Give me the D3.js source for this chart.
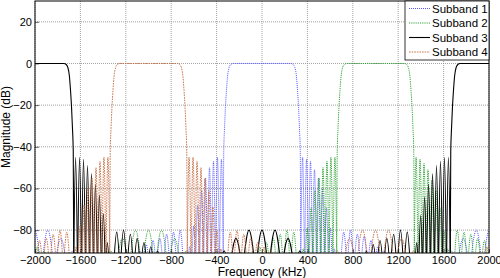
<!DOCTYPE html>
<html>
<head>
<meta charset="utf-8">
<script src="https://cdn.jsdelivr.net/npm/d3@7"></script>
<style>
  body { margin: 0; background: #fff; }
  text { font-family: "Liberation Sans", Arial, Helvetica, sans-serif; }
</style>
</head>
<body>
<div id="chart"></div>
<script>
// tick labels
var xTicks = [-2000, -1600, -1200, -800, -400, 0, 400, 800, 1200, 1600, 2000];
var yTicks = [20, 0, -20, -40, -60, -80];

// level used for the deep nulls between side lobes (below the visible range)
var nullDb = -100;

// Subband 1 (centre 0 kHz): passband points [kHz, dB] and side lobes [from, to, peak dB]
var s1Main = [[[-342, -100], [-337, -42], [-330, -31], [-322, -21], [-313, -13], [-303, -6], [-290, -2], [-275, -0.5], [-255, 0], [0, 0], [255, 0], [275, -0.5], [290, -2], [303, -6], [313, -13], [322, -21], [330, -31], [337, -42], [342, -100]]];
var s1Lobes = [
  [-375, -340, -46], [-410, -375, -45], [-445, -410, -47], [-480, -445, -50], [-515, -480, -55], [-550, -515, -61], [-585, -550, -68], [-620, -585, -78], [-655, -620, -88],
  [340, 375, -45], [375, 410, -46], [410, 445, -47], [445, 480, -51], [480, 515, -55], [515, 550, -60], [550, 585, -69], [585, 620, -79], [620, 655, -89],
  [-750, -690, -80], [-810, -750, -81], [-870, -810, -82], [-930, -870, -84], [-990, -930, -85], [-1050, -990, -87], [-1110, -1050, -90],
  [690, 750, -81], [750, 810, -80], [810, 870, -82], [870, 930, -83], [930, 990, -85], [990, 1050, -88], [1050, 1110, -90],
  [-2060, -1945, -80], [-1945, -1830, -80], [-1830, -1715, -84], [-1715, -1620, -90],
  [1620, 1715, -90], [1715, 1830, -84], [1830, 1945, -80], [1945, 2060, -80]
];

// Subband 2 (centre 1000 kHz)
var s2Main = [[[658, -100], [663, -42], [670, -31], [678, -21], [687, -13], [697, -6], [710, -2], [725, -0.5], [745, 0], [1000, 0], [1255, 0], [1275, -0.5], [1290, -2], [1303, -6], [1313, -13], [1322, -21], [1330, -31], [1337, -42], [1342, -100]]];
var s2Lobes = [
  [625, 660, -45], [590, 625, -45], [555, 590, -47], [520, 555, -50], [485, 520, -55], [450, 485, -61], [415, 450, -69], [380, 415, -79], [345, 380, -89],
  [1340, 1375, -45], [1375, 1410, -46], [1410, 1445, -48], [1445, 1480, -51], [1480, 1515, -56], [1515, 1550, -61], [1550, 1585, -69], [1585, 1620, -80], [1620, 1655, -89],
  [250, 310, -81], [190, 250, -80], [130, 190, -82], [70, 130, -84], [10, 70, -86], [-50, 10, -88], [-110, -50, -90],
  [1690, 1750, -80], [1750, 1810, -81], [1810, 1870, -82], [1870, 1930, -84], [1930, 1990, -85], [1990, 2050, -88], [-2010, -1950, -88], [-1950, -1890, -90],
  [-1057, -943, -80], [-1172, -1057, -80], [-1287, -1172, -84], [-1380, -1287, -90], [-943, -828, -80], [-828, -713, -84], [-713, -620, -90]
];

// Subband 3 (centre +/-2000 kHz)
var s3Main = [
  [[-2000, 0], [-1745, 0], [-1725, -0.5], [-1710, -2], [-1697, -6], [-1687, -13], [-1678, -21], [-1670, -31], [-1663, -42], [-1658, -100]],
  [[1658, -100], [1663, -42], [1670, -31], [1678, -21], [1687, -13], [1697, -6], [1710, -2], [1725, -0.5], [1745, 0], [2000, 0]]
];
var s3Lobes = [
  [-1660, -1625, -45], [-1625, -1590, -45], [-1590, -1555, -46], [-1555, -1520, -49], [-1520, -1485, -53], [-1485, -1450, -58], [-1450, -1415, -63], [-1415, -1380, -72], [-1380, -1345, -86],
  [1625, 1660, -45], [1590, 1625, -45], [1555, 1590, -47], [1520, 1555, -49], [1485, 1520, -53], [1450, 1485, -58], [1415, 1450, -64], [1380, 1415, -73], [1345, 1380, -86],
  [-1310, -1250, -81], [-1250, -1190, -80], [-1190, -1130, -82], [-1130, -1070, -84], [-1070, -1010, -86], [-1010, -950, -88], [-950, -890, -90],
  [1250, 1310, -81], [1190, 1250, -80], [1130, 1190, -82], [1070, 1130, -84], [1010, 1070, -85], [950, 1010, -87], [890, 950, -90],
  [-57, 57, -80], [57, 172, -80], [172, 287, -84], [287, 380, -90], [-172, -57, -80], [-287, -172, -84], [-380, -287, -90]
];

// Subband 4 (centre -1000 kHz)
var s4Main = [[[-1342, -100], [-1337, -42], [-1330, -31], [-1322, -21], [-1313, -13], [-1303, -6], [-1290, -2], [-1275, -0.5], [-1255, 0], [-1000, 0], [-745, 0], [-725, -0.5], [-710, -2], [-697, -6], [-687, -13], [-678, -21], [-670, -31], [-663, -42], [-658, -100]]];
var s4Lobes = [
  [-1375, -1340, -45], [-1410, -1375, -45], [-1445, -1410, -47], [-1480, -1445, -50], [-1515, -1480, -55], [-1550, -1515, -60], [-1585, -1550, -68], [-1620, -1585, -78], [-1655, -1620, -88],
  [-660, -625, -45], [-625, -590, -45], [-590, -555, -47], [-555, -520, -50], [-520, -485, -55], [-485, -450, -61], [-450, -415, -69], [-415, -380, -80], [-380, -345, -89],
  [-1750, -1690, -81], [-1810, -1750, -80], [-1870, -1810, -82], [-1930, -1870, -84], [-1990, -1930, -85], [-2050, -1990, -88], [1950, 2010, -88], [1890, 1950, -90],
  [-310, -250, -81], [-250, -190, -80], [-190, -130, -82], [-130, -70, -84], [-70, -10, -86], [-10, 50, -88], [50, 110, -90],
  [943, 1057, -80], [828, 943, -80], [713, 828, -84], [620, 713, -90], [1057, 1172, -80], [1172, 1287, -84], [1287, 1380, -90]
];

var seriesNames = ["Subband 1", "Subband 2", "Subband 3", "Subband 4"];
var seriesColors = ["#4646ff", "#1f9a26", "#000000", "#c46a40"];
var seriesDash = ["1,1", "1.2,1", null, "1.6,1"];
var seriesWidth = [0.9, 0.9, 1.1, 0.9];
var mains = [s1Main, s2Main, s3Main, s4Main];
var lobes = [s1Lobes, s2Lobes, s3Lobes, s4Lobes];

var width = 500, height = 278;
var margin = {top: 1, right: 11, bottom: 25, left: 35};
var w = width - margin.left - margin.right;
var h = height - margin.top - margin.bottom;

var svg = d3.select("#chart").append("svg")
    .attr("width", width)
    .attr("height", height);

var g = svg.append("g")
    .attr("transform", "translate(" + margin.left + "," + margin.top + ")");

var x = d3.scaleLinear().domain([-2000, 2000]).range([0, w]);
var y = d3.scaleLinear().domain([-91, 30]).range([h, 0]);

g.append("clipPath").attr("id", "clip")
  .append("rect").attr("width", w).attr("height", h);

// grid
g.selectAll(".gx").data(xTicks).enter().append("line")
    .attr("x1", d => x(d)).attr("x2", d => x(d))
    .attr("y1", 0).attr("y2", h)
    .attr("stroke", "#8a8a8a").attr("stroke-width", 0.8)
    .attr("stroke-dasharray", "1,1");
g.selectAll(".gy").data(yTicks).enter().append("line")
    .attr("x1", 0).attr("x2", w)
    .attr("y1", d => y(d)).attr("y2", d => y(d))
    .attr("stroke", "#8a8a8a").attr("stroke-width", 0.8)
    .attr("stroke-dasharray", "1,1");

// curves
var line = d3.line()
    .x(d => x(d[0]))
    .y(d => y(d[1]))
    .curve(d3.curveMonotoneX);

var plot = g.append("g").attr("clip-path", "url(#clip)");

mains.forEach(function (main, i) {
    var sg = plot.append("g")
        .attr("fill", "none")
        .attr("stroke", seriesColors[i])
        .attr("stroke-width", seriesWidth[i])
        .attr("stroke-dasharray", seriesDash[i]);
    main.forEach(function (seg) {
        sg.append("path").attr("d", line(seg));
    });
    lobes[i].forEach(function (lb) {
        var pts = [[lb[0], nullDb], [(lb[0] + lb[1]) / 2, lb[2]], [lb[1], nullDb]];
        sg.append("path").attr("d", line(pts));
    });
});

// axes
var xAxis = g.append("g")
    .attr("transform", "translate(0," + h + ")")
    .call(d3.axisBottom(x).tickValues(xTicks).tickSize(-4).tickPadding(3).tickFormat(d3.format("d")));
var yAxis = g.append("g")
    .call(d3.axisLeft(y).tickValues(yTicks).tickSize(-4).tickPadding(3));
[xAxis, yAxis].forEach(function (ax) {
    ax.select(".domain").remove();
    ax.selectAll("line").attr("stroke", "#000").attr("stroke-width", 0.6);
    ax.selectAll("text").attr("font-size", 11).attr("fill", "#000")
      .style("font-family", "'Liberation Sans', Arial, sans-serif");
});

// frame
g.append("rect")
    .attr("width", w).attr("height", h)
    .attr("fill", "none").attr("stroke", "#000").attr("stroke-width", 1);

// axis labels
svg.append("text")
    .attr("x", margin.left + w / 2).attr("y", 276)
    .attr("text-anchor", "middle").attr("font-size", 12)
    .text("Frequency (kHz)");
svg.append("text")
    .attr("transform", "translate(10," + (margin.top + h / 2) + ") rotate(-90)")
    .attr("text-anchor", "middle").attr("font-size", 12)
    .text("Magnitude (dB)");

// legend
var lg = g.append("g").attr("transform", "translate(" + (w - 84) + ",0)");
lg.append("rect").attr("width", 84).attr("height", 59)
    .attr("fill", "#fff").attr("stroke", "#000").attr("stroke-width", 0.8);
seriesNames.forEach(function (name, i) {
    var ly = 7.5 + i * 14.5;
    lg.append("line")
        .attr("x1", 4).attr("x2", 25).attr("y1", ly).attr("y2", ly)
        .attr("stroke", seriesColors[i]).attr("stroke-width", seriesWidth[i])
        .attr("stroke-dasharray", seriesDash[i]);
    lg.append("text")
        .attr("x", 27).attr("y", ly).attr("dy", "0.35em")
        .attr("font-size", 11.5)
        .text(name);
});
</script>
</body>
</html>
